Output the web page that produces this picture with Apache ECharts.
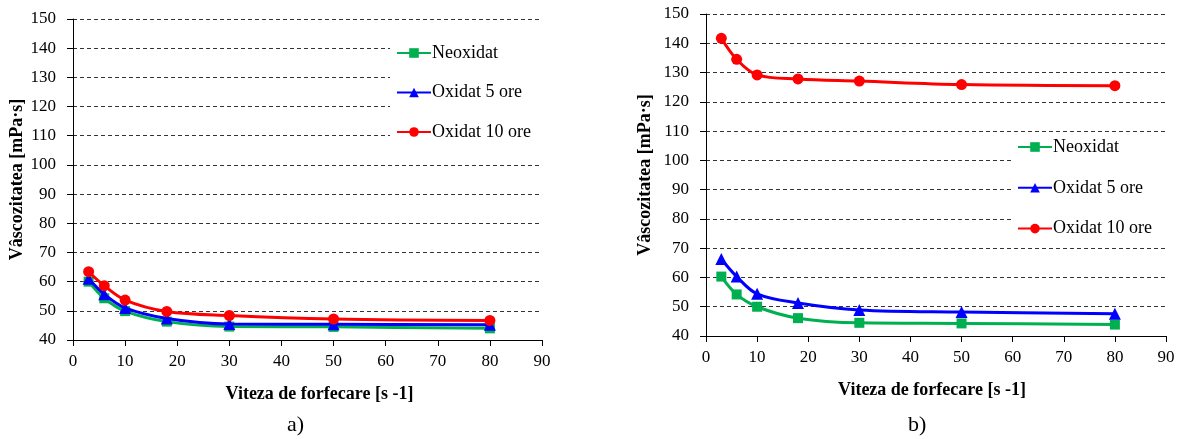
<!DOCTYPE html>
<html><head><meta charset="utf-8">
<script src="https://cdn.jsdelivr.net/npm/echarts@6/dist/echarts.min.js"></script>
<style>html,body{margin:0;padding:0;background:#fff}#c{width:1182px;height:439px}</style>
</head><body><div id="c"></div>
<script>
var shearRates = [3, 6, 10, 18, 30, 50, 80];
var leftNeo  = [60.0, 54.3, 49.9, 46.3, 44.6, 44.5, 44.0];
var leftOx5  = [61.0, 55.7, 51.0, 47.4, 45.5, 45.4, 45.2];
var leftOx10 = [63.4, 58.6, 53.7, 49.8, 48.4, 47.2, 46.7];
var rightNeo  = [60.3, 54.2, 50.0, 46.1, 44.5, 44.3, 43.9];
var rightOx5  = [66.3, 60.3, 54.4, 51.3, 48.9, 48.2, 47.6];
var rightOx10 = [141.7, 134.5, 129.2, 127.8, 127.1, 125.9, 125.5];
var names = ['Neoxidat', 'Oxidat 5 ore', 'Oxidat 10 ore'];
var xTitle = 'Viteza de forfecare [s -1]';
var yTitle = 'Vâscozitatea [mPa·s]';

var FONT = '"Liberation Serif","Times New Roman",serif';
var colors = ['#00B050', '#0000FF', '#FF0000'];
var symbols = ['rect', 'triangle', 'circle'];
var sizes = [10, 12, 11];

function pairs(ys){ return shearRates.map(function(x,i){ return [x, ys[i]]; }); }

function xAxis(idx, pad){
  return {
    type:'value', gridIndex: idx, min:0, max:90, interval:10,
    name: xTitle, nameLocation:'middle', nameGap: 45,
    nameTextStyle:{fontFamily:FONT, fontWeight:'bold', fontSize:18, color:'#000', padding: pad},
    axisLine:{show:true, onZero:false, lineStyle:{color:'#000', width:1}},
    axisTick:{show:true, length:6, lineStyle:{color:'#000'}},
    axisLabel:{fontFamily:FONT, fontSize:17, color:'#000', margin:13},
    splitLine:{show:false}
  };
}
function yAxis(idx, gap){
  return {
    type:'value', gridIndex: idx, min:40, max:150, interval:10,
    name: yTitle, nameLocation:'middle', nameGap: gap,
    nameTextStyle:{fontFamily:FONT, fontWeight:'bold', fontSize:18, color:'#000'},
    axisLine:{show:true, lineStyle:{color:'#000', width:1}},
    axisTick:{show:true, length:6, lineStyle:{color:'#000'}},
    axisLabel:{fontFamily:FONT, fontSize:17, color:'#000', margin:17},
    splitLine:{show:true, lineStyle:{color:'#333', type:[4,3], width:1}}
  };
}
function series(idx, data){
  return data.map(function(d, i){
    return {
      name: names[i], type:'line', xAxisIndex: idx, yAxisIndex: idx,
      data: pairs(d), smooth: 0.35, symbol: symbols[i], symbolSize: sizes[i],
      showAllSymbol: true, z: 3 + i,
      lineStyle:{color: colors[i], width: 3},
      itemStyle:{color: colors[i]}
    };
  });
}
function legend(left, top, gap, padRight){
  return {
    data: names, orient:'vertical', left: left, top: top, itemGap: gap,
    itemWidth: 34, itemHeight: 12, backgroundColor:'#fff', padding:[6, padRight, 6, 6],
    textStyle:{fontFamily:FONT, fontSize:18, color:'#000', padding:[0,0,0,-4]},
    selectedMode:false
  };
}

var chart = echarts.init(document.getElementById('c'));
chart.setOption({
  animation:false,
  color: colors,
  title:[
    {text:'a)', left:287, top:414, textStyle:{fontFamily:FONT, fontWeight:'normal', fontSize:22, color:'#000'}, padding:0},
    {text:'b)', left:908, top:414, textStyle:{fontFamily:FONT, fontWeight:'normal', fontSize:22, color:'#000'}, padding:0}
  ],
  legend:[ legend(390, 38, 21.5, 14), legend(1011, 132, 22.8, 14) ],
  grid:[
    {left:73, top:19, width:469, height:321, containLabel:false},
    {left:706, top:14, width:460, height:322, containLabel:false}
  ],
  xAxis:[ xAxis(0, [0,0,0,24]), xAxis(1, [0,8,0,0]) ],
  yAxis:[ yAxis(0, 43), yAxis(1, 52) ],
  series: series(0, [leftNeo, leftOx5, leftOx10]).concat(series(1, [rightNeo, rightOx5, rightOx10]))
});
</script></body></html>
